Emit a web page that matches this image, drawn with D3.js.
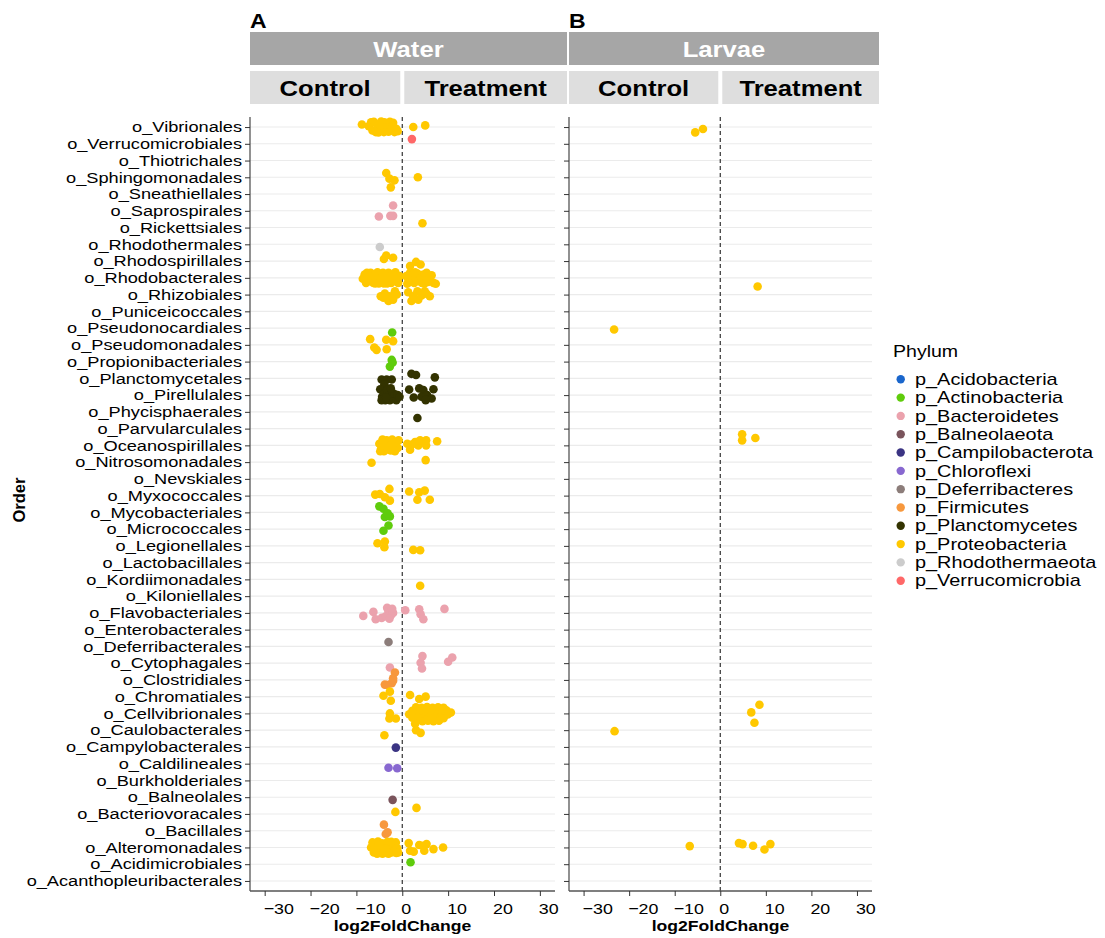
<!DOCTYPE html>
<html><head><meta charset="utf-8">
<script src="https://cdn.jsdelivr.net/npm/d3@7"></script>
<style>
html,body{margin:0;padding:0;background:#fff;}
svg text{font-family:"Liberation Sans",Arial,Helvetica,sans-serif;}
</style></head><body>
<svg id="chart" width="1105" height="938"></svg>
<script>
// Bacterial orders shown on the y axis, top to bottom
const orders = [
  "o_Vibrionales","o_Verrucomicrobiales","o_Thiotrichales","o_Sphingomonadales","o_Sneathiellales",
  "o_Saprospirales","o_Rickettsiales","o_Rhodothermales","o_Rhodospirillales","o_Rhodobacterales",
  "o_Rhizobiales","o_Puniceicoccales","o_Pseudonocardiales","o_Pseudomonadales","o_Propionibacteriales",
  "o_Planctomycetales","o_Pirellulales","o_Phycisphaerales","o_Parvularculales","o_Oceanospirillales",
  "o_Nitrosomonadales","o_Nevskiales","o_Myxococcales","o_Mycobacteriales","o_Micrococcales",
  "o_Legionellales","o_Lactobacillales","o_Kordiimonadales","o_Kiloniellales","o_Flavobacteriales",
  "o_Enterobacterales","o_Deferribacterales","o_Cytophagales","o_Clostridiales","o_Chromatiales",
  "o_Cellvibrionales","o_Caulobacterales","o_Campylobacterales","o_Caldilineales","o_Burkholderiales",
  "o_Balneolales","o_Bacteriovoracales","o_Bacillales","o_Alteromonadales","o_Acidimicrobiales",
  "o_Acanthopleuribacterales"
];

// Phylum legend entries and their colours
const phyla = [
  "p_Acidobacteria","p_Actinobacteria","p_Bacteroidetes","p_Balneolaeota","p_Campilobacterota",
  "p_Chloroflexi","p_Deferribacteres","p_Firmicutes","p_Planctomycetes","p_Proteobacteria",
  "p_Rhodothermaeota","p_Verrucomicrobia"
];
const phylumColours = [
  "#1a66cc","#5fcc0c","#eba2ad","#7a545c","#3b3483",
  "#8868d0","#8c7d7a","#f7983d","#333300","#ffc800",
  "#cccccc","#ff6868"
];

const xTicks = [-30, -20, -10, 0, 10, 20, 30];
const sampleTypes = ["Water", "Larvae"];
const conditions = ["Control", "Treatment"];
const panelTags = ["A", "B"];

// Significant ASVs: [order, phylum, [[log2FoldChange, jitter (in category steps)], ...]]
const waterPoints = [
  ["o_Vibrionales","p_Proteobacteria",[[-8.8,-0.15],[-7.3,-0.05],[-6.8,-0.28],[-6.5,0.2],[-6.2,-0.32],[-5.8,0.3],[-5.4,-0.1],[-5.2,0.32],[-5.0,0.12],[-4.6,-0.33],[-4.3,0.05],[-4.0,0.3],[-3.9,-0.28],[-3.7,0.18],[-3.3,-0.1],[-3.0,0.28],[-2.7,-0.32],[-2.4,0.1],[-2.0,-0.25],[-1.7,0.3],[-1.3,0.1],[-1.0,0.25],[-2.2,-0.05],[-4.8,-0.1],[2.4,0.0],[5.0,-0.1]]],
  ["o_Verrucomicrobiales","p_Verrucomicrobia",[[2.1,-0.28]]],
  ["o_Sphingomonadales","p_Proteobacteria",[[-3.5,-0.26],[-2.8,0.08],[-1.7,0.18],[3.4,0.0]]],
  ["o_Sneathiellales","p_Proteobacteria",[[-2.5,-0.4]]],
  ["o_Saprospirales","p_Bacteroidetes",[[-2.0,-0.32],[-5.1,0.34],[-2.6,0.3],[-2.0,0.3]]],
  ["o_Rickettsiales","p_Proteobacteria",[[4.4,-0.26]]],
  ["o_Rhodothermales","p_Rhodothermaeota",[[-4.9,0.16]]],
  ["o_Rhodospirillales","p_Proteobacteria",[[-3.5,-0.33],[-4.0,-0.12],[-2.0,-0.2],[1.7,0.3],[3.0,0.05],[4.0,0.2]]],
  ["o_Rhodobacterales","p_Proteobacteria",[[-8.6,0.05],[-8.2,-0.2],[-7.9,0.3],[-7.5,-0.1],[-7.2,0.2],[-6.9,-0.3],[-6.6,0.0],[-6.3,0.3],[-6.0,-0.2],[-5.7,0.15],[-5.4,-0.33],[-5.1,0.33],[-4.8,-0.05],[-4.5,0.25],[-4.2,-0.3],[-3.9,0.1],[-3.6,-0.15],[-3.3,0.33],[-3.0,-0.3],[-2.7,0.05],[-2.4,0.3],[-2.1,-0.2],[-1.8,0.15],[-1.5,-0.33],[-1.2,0.0],[-0.9,0.3],[-0.6,-0.1],[-5.9,0.33],[-7.7,-0.3],[-4.0,0.33],[-2.9,-0.05],
    [0.9,-0.1],[1.3,0.25],[1.6,-0.25],[2.0,0.1],[2.3,-0.15],[2.6,0.3],[3.0,0.0],[3.3,-0.25],[3.6,0.2],[4.0,-0.05],[4.3,0.3],[4.6,-0.2],[5.0,0.1],[5.3,-0.3],[5.6,0.25],[6.0,0.0],[6.4,-0.15],[6.8,0.3],[7.3,0.35],[1.1,0.35],[2.8,-0.33],[4.8,0.35]]],
  ["o_Rhizobiales","p_Proteobacteria",[[-4.7,0.1],[-3.8,-0.06],[-2.7,0.1],[-1.6,-0.2],[-2.0,0.3],[-3.0,0.38],[-4.1,0.18],[-1.2,0.0],
    [1.3,-0.14],[2.4,0.1],[3.3,-0.2],[4.2,0.05],[5.3,-0.05],[6.0,0.1],[2.0,0.38],[3.5,0.3],[4.9,-0.2]]],
  ["o_Pseudonocardiales","p_Actinobacteria",[[-2.2,0.26]]],
  ["o_Pseudomonadales","p_Proteobacteria",[[-7.0,-0.34],[-6.1,0.16],[-5.6,0.3],[-3.5,-0.3],[-2.0,-0.22],[-3.4,0.26]]],
  ["o_Propionibacteriales","p_Actinobacteria",[[-2.3,-0.1],[-2.7,0.3],[-2.1,0.05]]],
  ["o_Planctomycetales","p_Planctomycetes",[[-4.5,0.07],[-3.4,0.07],[-2.3,0.07],[-3.9,0.35],[2.0,-0.27],[3.0,-0.2],[7.1,-0.06]]],
  ["o_Pirellulales","p_Planctomycetes",[[-4.8,-0.35],[-4.4,0.1],[-4.0,-0.1],[-3.7,0.3],[-3.3,-0.3],[-3.0,0.05],[-2.7,0.3],[-2.3,-0.2],[-2.0,0.15],[-1.6,-0.05],[-1.3,0.3],[-1.0,0.0],[-4.5,0.3],[-3.5,0.15],[-2.5,-0.4],[-0.6,0.1],
    [1.5,-0.33],[2.5,0.14],[3.7,-0.4],[4.6,-0.3],[4.2,0.1],[5.4,0.0],[6.4,0.2],[6.8,-0.35],[5.1,0.3]]],
  ["o_Phycisphaerales","p_Planctomycetes",[[3.3,0.37]]],
  ["o_Oceanospirillales","p_Proteobacteria",[[-5.0,-0.1],[-4.6,0.2],[-4.3,-0.35],[-4.0,0.35],[-3.7,0.0],[-3.4,-0.3],[-3.1,0.25],[-2.8,-0.1],[-2.5,0.3],[-2.2,-0.35],[-1.9,0.05],[-1.6,0.35],[-1.3,-0.2],[-1.0,0.15],[-3.9,-0.05],[-2.0,-0.1],[-4.8,0.35],[-0.8,-0.3],
    [1.1,-0.1],[1.7,0.26],[2.8,-0.2],[3.5,0.0],[3.9,-0.3],[5.2,0.0],[5.2,-0.3],[7.6,-0.25],[2.1,-0.05]]],
  ["o_Nitrosomonadales","p_Proteobacteria",[[-6.7,0.04],[5.1,-0.12]]],
  ["o_Myxococcales","p_Proteobacteria",[[-5.9,-0.06],[-4.9,-0.1],[-3.8,0.1],[-2.7,0.3],[-2.8,-0.4],[1.5,-0.25],[3.7,-0.2],[4.9,-0.3],[3.3,0.25],[6.0,0.25]]],
  ["o_Mycobacteriales","p_Actinobacteria",[[-5.0,-0.36],[-4.1,-0.22],[-3.8,0.28],[-2.7,0.24],[-3.2,0.05]]],
  ["o_Micrococcales","p_Actinobacteria",[[-3.0,-0.22],[-4.1,0.1]]],
  ["o_Legionellales","p_Proteobacteria",[[-5.4,-0.16],[-3.8,-0.26],[-3.9,0.08],[2.4,0.24],[3.9,0.26]]],
  ["o_Kordiimonadales","p_Proteobacteria",[[3.9,0.38]]],
  ["o_Flavobacteriales","p_Bacteroidetes",[[-8.5,0.18],[-6.3,-0.06],[-5.8,0.38],[-4.5,0.3],[-3.3,-0.3],[-3.0,-0.1],[-2.5,0.15],[-2.0,0.0],[-3.6,0.2],[-2.8,0.35],[-2.2,-0.25],
    [0.65,-0.16],[3.7,-0.22],[4.0,0.08],[4.6,0.38],[9.2,-0.24]]],
  ["o_Deferribacterales","p_Deferribacteres",[[-3.0,-0.26]]],
  ["o_Cytophagales","p_Bacteroidetes",[[4.4,-0.42],[4.0,-0.02],[4.3,0.32],[10.0,-0.08],[10.9,-0.34],[-2.7,0.26]]],
  ["o_Clostridiales","p_Firmicutes",[[-1.6,-0.44],[-2.0,-0.1],[-2.3,0.2],[-3.8,0.28],[-2.0,0.05],[-3.3,0.3]]],
  ["o_Chromatiales","p_Proteobacteria",[[-4.1,-0.05],[-2.7,-0.3],[-2.5,0.24],[1.7,-0.1],[3.7,0.14],[5.1,0.0]]],
  ["o_Cellvibrionales","p_Proteobacteria",[[-2.7,0.0],[-2.8,0.3],[-1.4,0.3],
    [3.0,-0.36],[4.2,-0.33],[5.4,-0.38],[6.6,-0.34],[7.8,-0.37],[9.0,-0.33],
    [2.2,-0.15],[3.6,-0.12],[4.8,-0.17],[6.0,-0.14],[7.2,-0.16],[8.4,-0.12],[9.6,-0.18],[10.6,-0.05],
    [1.5,0.05],[2.8,0.08],[4.0,0.03],[5.2,0.06],[6.4,0.02],[7.6,0.07],[8.8,0.04],[9.9,0.06],
    [2.2,0.26],[3.4,0.24],[4.6,0.28],[5.8,0.23],[7.0,0.27],[8.2,0.25],[9.0,0.29],
    [3.0,0.45],[4.4,0.47],[5.6,0.43],[6.8,0.46],[8.0,0.44],[2.8,0.62]]],
  ["o_Caulobacterales","p_Proteobacteria",[[-3.9,0.3],[3.0,0.0],[4.0,0.16]]],
  ["o_Campylobacterales","p_Campilobacterota",[[-1.4,0.04]]],
  ["o_Caldilineales","p_Chloroflexi",[[-3.0,0.24],[-1.1,0.27]]],
  ["o_Balneolales","p_Balneolaeota",[[-2.1,0.16]]],
  ["o_Bacteriovoracales","p_Proteobacteria",[[-1.5,-0.12],[3.1,-0.36]]],
  ["o_Bacillales","p_Firmicutes",[[-4.0,-0.36],[-3.6,0.2],[-3.2,0.1]]],
  ["o_Alteromonadales","p_Proteobacteria",[[-6.8,0.0],[-6.5,-0.3],[-6.2,0.3],[-5.9,-0.1],[-5.6,0.2],[-5.3,-0.35],[-5.0,0.33],[-4.7,0.0],[-4.4,-0.25],[-4.1,0.25],[-3.8,-0.05],[-3.5,0.33],[-3.2,-0.33],[-2.9,0.1],[-2.6,-0.2],[-2.3,0.3],[-2.0,-0.05],[-1.7,0.2],[-1.4,-0.3],[-1.1,0.05],[-0.9,0.3],[-6.0,0.1],[-4.9,-0.15],[-3.6,0.1],[-2.4,-0.33],[-1.3,0.33],[-5.5,0.38],[-3.0,0.38],[-4.3,0.38],
    [1.4,-0.26],[1.7,0.2],[2.5,0.25],[3.7,-0.15],[4.4,-0.1],[5.3,-0.2],[4.8,0.2],[6.8,0.1],[8.9,0.0]]],
  ["o_Acidimicrobiales","p_Actinobacteria",[[1.8,-0.12]]]
];

const larvaePoints = [
  ["o_Vibrionales","p_Proteobacteria",[[-5.5,0.32],[-3.8,0.12]]],
  ["o_Rhodobacterales","p_Proteobacteria",[[8.2,0.52]]],
  ["o_Pseudonocardiales","p_Proteobacteria",[[-23.3,0.08]]],
  ["o_Oceanospirillales","p_Proteobacteria",[[4.8,-0.66],[4.8,-0.3],[7.7,-0.44]]],
  ["o_Chromatiales","p_Proteobacteria",[[8.6,0.48]]],
  ["o_Cellvibrionales","p_Proteobacteria",[[6.8,-0.06]]],
  ["o_Caulobacterales","p_Proteobacteria",[[7.5,-0.44],[-23.2,0.06]]],
  ["o_Alteromonadales","p_Proteobacteria",[[-6.7,-0.08],[4.1,-0.26],[4.9,-0.2],[7.2,-0.1],[9.7,0.12],[11.0,-0.2]]]
];

// ---------------------------------------------------------------- layout
const svg = d3.select("#chart");
const plotTop = 117, plotBottom = 891;
const panelBoxes = [
  { left: 250, right: 555, stripRight: 567 },
  { left: 569, right: 872, stripRight: 879 }
];
const xDomain = [-33.2, 33.3];
const textStretch = 1.15;   // horizontal glyph stretch used by the labels
const dotRadius = 4.3;

const colour = d3.scaleOrdinal().domain(phyla).range(phylumColours);
const y = d3.scalePoint().domain(orders).range([plotTop, plotBottom]).padding(0.6);

function flatten(groups) {
  const out = [];
  groups.forEach(([order, phylum, pts]) => {
    pts.forEach(([lfc, jit]) => out.push({ order, phylum, lfc, jit }));
  });
  return out;
}
const panelData = [flatten(waterPoints), flatten(larvaePoints)];

// stretched text helper: draws text at (x, y) with a horizontal scale
function label(parent, x, yPos, txt, opts = {}) {
  return parent.append("text")
    .attr("transform", `translate(${x},${yPos}) scale(${opts.stretch ?? textStretch},1)`)
    .attr("text-anchor", opts.anchor || "start")
    .attr("font-size", opts.size || 15)
    .attr("font-weight", opts.weight || "normal")
    .attr("fill", opts.fill || "#000")
    .text(txt);
}

panelBoxes.forEach((box, pi) => {
  const x = d3.scaleLinear().domain(xDomain).range([box.left, box.right]);
  const g = svg.append("g");

  // horizontal grid lines
  g.selectAll("line.grid").data(orders).join("line")
    .attr("x1", box.left).attr("x2", box.right)
    .attr("y1", d => y(d)).attr("y2", d => y(d))
    .attr("stroke", "#ebebeb").attr("stroke-width", 1.1);

  // zero reference
  g.append("line")
    .attr("x1", x(0)).attr("x2", x(0))
    .attr("y1", plotTop).attr("y2", plotBottom)
    .attr("stroke", "#333").attr("stroke-width", 1.2)
    .attr("stroke-dasharray", "4,3");

  // y axis (ticks on both panels, labels on the first)
  const yAxis = d3.axisLeft(y).tickSize(5).tickSizeOuter(0);
  const ya = g.append("g").attr("transform", `translate(${box.left},0)`).call(yAxis);
  ya.select(".domain").attr("stroke", "#555").attr("stroke-width", 1.3)
    .attr("d", `M0,${plotTop}V${plotBottom}`);
  ya.selectAll(".tick line").attr("stroke", "#333").attr("stroke-width", 1);
  ya.selectAll(".tick text").remove();
  if (pi === 0) {
    orders.forEach(o => label(g, box.left - 8, y(o) + 5.3, o, { anchor: "end", size: 15.3, stretch: 1.19 }));
  }

  // x axis
  const xAxis = d3.axisBottom(x).tickValues(xTicks).tickSize(5).tickSizeOuter(0).tickFormat(d3.format("d"));
  const xa = g.append("g").attr("transform", `translate(0,${plotBottom})`).call(xAxis);
  xa.select(".domain").attr("stroke", "#555").attr("stroke-width", 1.3)
    .attr("d", `M${box.left},0H${box.right}`);
  xa.selectAll(".tick line").attr("stroke", "#333").attr("stroke-width", 1);
  xa.selectAll(".tick text").remove();
  xTicks.forEach(v => label(g, x(v) - 1, 914, d3.format("d")(v), { size: 15.5 }));
  label(g, (box.left + box.right) / 2, 931, "log2FoldChange", { anchor: "middle", size: 15.3, weight: "bold" });

  // points
  g.selectAll("circle").data(panelData[pi]).join("circle")
    .attr("cx", d => x(d.lfc))
    .attr("cy", d => y(d.order) + d.jit * y.step())
    .attr("r", dotRadius)
    .attr("fill", d => colour(d.phylum));

  // strips
  g.append("rect").attr("x", box.left).attr("y", 32).attr("width", box.stripRight - box.left).attr("height", 33)
    .attr("fill", "#a6a6a6");
  label(g, (box.left + box.stripRight) / 2, 57, sampleTypes[pi], { anchor: "middle", size: 22.3, weight: "bold", fill: "#fff" });

  const splits = [[box.left, x(0) - 2], [x(0) + 2, box.stripRight]];
  splits.forEach(([a, b], ci) => {
    g.append("rect").attr("x", a).attr("y", 71).attr("width", b - a).attr("height", 33).attr("fill", "#dedede");
    label(g, (a + b) / 2, 95.5, conditions[ci], { anchor: "middle", size: 22.3, weight: "bold" });
  });

  label(g, box.left, 28, panelTags[pi], { size: 20, weight: "bold" });
});

// y axis title
svg.append("text")
  .attr("transform", "translate(25,500) rotate(-90)")
  .attr("text-anchor", "middle")
  .attr("font-size", 16.5).attr("font-weight", "bold")
  .text("Order");

// legend
const legend = svg.append("g");
label(legend, 893, 356.7, "Phylum", { size: 17, stretch: 1.15 });
phyla.forEach((p, i) => {
  const cy = 379.3 + i * 18.31;
  legend.append("circle").attr("cx", 900.7).attr("cy", cy).attr("r", 4.2).attr("fill", colour(p));
  label(legend, 915, cy + 5.7, p, { size: 17, stretch: 1.17 });
});
</script>
</body></html>
